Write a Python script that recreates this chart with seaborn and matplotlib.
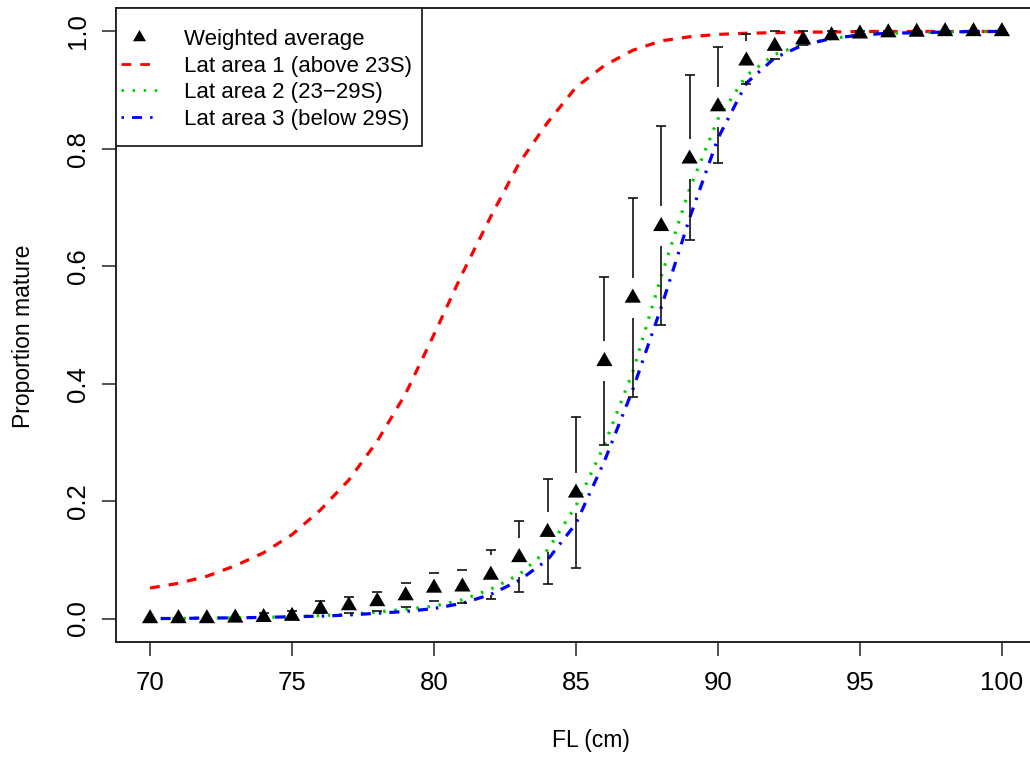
import matplotlib
matplotlib.use("Agg")
import numpy as np
import pandas as pd
import seaborn as sns
import matplotlib.pyplot as plt
from matplotlib.path import Path
from matplotlib.lines import Line2D
from matplotlib.transforms import ScaledTranslation

# ---------------- data ----------------
fl_cm = list(range(70, 101))

weighted_avg = [0.000, 0.000, 0.000, 0.001, 0.002, 0.004, 0.016, 0.022, 0.029, 0.039,
                0.052, 0.054, 0.074, 0.104, 0.147, 0.214, 0.438, 0.546, 0.668, 0.783,
                0.872, 0.950, 0.975, 0.986, 0.993, 0.996, 0.998, 0.999, 1.000, 1.000, 1.000]

ci_upper = [0.000, 0.000, 0.000, 0.001, 0.009, 0.013, 0.029, 0.036, 0.046, 0.060,
            0.077, 0.083, 0.116, 0.166, 0.238, 0.344, 0.582, 0.716, 0.839, 0.926,
            0.973, 0.995, 1.000, 1.000, 1.000, 1.000, 1.000, 1.000, 1.000, 1.000, 1.000]

ci_lower = [0.000, 0.000, 0.000, 0.001, 0.000, 0.000, 0.010, 0.009, 0.013, 0.020,
            0.029, 0.026, 0.034, 0.045, 0.059, 0.086, 0.296, 0.378, 0.500, 0.644,
            0.776, 0.910, 0.953, 0.977, 0.990, 0.995, 0.998, 0.999, 1.000, 1.000, 1.000]

lat_area1 = [0.052, 0.060, 0.072, 0.090, 0.112, 0.143, 0.185, 0.236, 0.302, 0.383,
             0.484, 0.588, 0.685, 0.776, 0.845, 0.905, 0.942, 0.968, 0.984, 0.991,
             0.995, 0.997, 0.998, 0.999, 0.999, 1.000, 1.000, 1.000, 1.000, 1.000, 1.000]

lat_area2 = [0.000, 0.000, 0.001, 0.001, 0.002, 0.003, 0.005, 0.007, 0.011, 0.016,
             0.021, 0.032, 0.050, 0.075, 0.117, 0.192, 0.296, 0.420, 0.583, 0.732,
             0.851, 0.925, 0.961, 0.978, 0.988, 0.994, 0.997, 0.998, 0.999, 1.000, 1.000]

lat_area3 = [0.000, 0.000, 0.001, 0.001, 0.002, 0.003, 0.004, 0.006, 0.009, 0.012,
             0.017, 0.026, 0.041, 0.065, 0.100, 0.162, 0.268, 0.390, 0.530, 0.682,
             0.818, 0.912, 0.955, 0.977, 0.988, 0.994, 0.997, 0.998, 0.999, 1.000, 1.000]

series_labels = ["Lat area 1 (above 23S)", "Lat area 2 (23\u221229S)", "Lat area 3 (below 29S)"]
point_label = "Weighted average"
x_label = "FL (cm)"
y_label = "Proportion mature"
x_ticks = [70, 75, 80, 85, 90, 95, 100]
y_ticks = [0.0, 0.2, 0.4, 0.6, 0.8, 1.0]

# ---------------- style ----------------
sns.set_theme(style="white")
plt.rcParams["font.family"] = ["Liberation Sans", "DejaVu Sans"]
plt.rcParams["lines.scale_dashes"] = False
plt.rcParams["text.color"] = "black"

DPI = 100
W, H = 1030, 757
fig = plt.figure(figsize=(W / DPI, H / DPI), dpi=DPI)
ax_l, ax_r, ax_t, ax_b = 116, 1036, 8, 642
ax = fig.add_axes([ax_l / W, (H - ax_b) / H, (ax_r - ax_l) / W, (ax_b - ax_t) / H])

line_colors = ["#FF0000", "#00CD00", "#0000FF"]
line_dashes = [(7.0, 6.5), (1.8, 6.2), (1.8, 5.8, 7.2, 5.8)]
LW = 2.3

long_df = pd.DataFrame({
    "fl": fl_cm * 3,
    "p": lat_area1 + lat_area2 + lat_area3,
    "area": [series_labels[0]] * len(fl_cm) + [series_labels[1]] * len(fl_cm) + [series_labels[2]] * len(fl_cm),
})
sns.lineplot(data=long_df, x="fl", y="p", hue="area", style="area",
             palette=dict(zip(series_labels, line_colors)),
             dashes=dict(zip(series_labels, line_dashes)),
             linewidth=LW, ax=ax, legend=False, sort=False, estimator=None)
for ln in ax.get_lines():
    ln.set_dash_capstyle("butt")

# error bars (plotCI style with a gap round each point)
gap = 0.034
cap_half = 0.175
fl_arr = np.array(fl_cm, float)
y_arr = np.array(weighted_avg)
up_arr = np.array(ci_upper)
lo_arr = np.array(ci_lower)
bar_kw = dict(color="#111111", linewidth=1.2, zorder=3)
m_up = up_arr > y_arr + gap
ax.vlines(fl_arr[m_up], y_arr[m_up] + gap, up_arr[m_up], **bar_kw)
m_lo = lo_arr < y_arr - gap
ax.vlines(fl_arr[m_lo], lo_arr[m_lo], y_arr[m_lo] - gap, **bar_kw)
m_cap = up_arr > y_arr
ax.hlines(up_arr[m_cap], fl_arr[m_cap] - cap_half, fl_arr[m_cap] + cap_half, **bar_kw)
m_cap2 = lo_arr < y_arr
ax.hlines(lo_arr[m_cap2], fl_arr[m_cap2] - cap_half, fl_arr[m_cap2] + cap_half, **bar_kw)

# R pch 17 triangle (centroid at the data point)
tri = [(0.0, 1.5551), (1.3468, -0.7776), (-1.3468, -0.7776), (0.0, 1.5551)]
pts_df = pd.DataFrame({"fl": fl_cm, "p": weighted_avg})
sns.scatterplot(data=pts_df, x="fl", y="p", marker=tri, s=13.5 ** 2, color="black",
                edgecolor="none", linewidth=0, ax=ax, zorder=4, legend=False)

# axes
ax.set_xlim(68.8, 101.2)
ax.set_ylim(-0.04, 1.04)
ax.set_xticks(x_ticks)
ax.set_yticks(y_ticks)
ax.set_xticklabels([str(t) for t in x_ticks])
ax.set_yticklabels([f"{t:.1f}" for t in y_ticks])
TICK_FS = 18.5
ax.tick_params(axis="both", which="major", direction="out", length=10, width=1.1,
               color="#222222", labelsize=TICK_FS, labelcolor="black",
               bottom=True, left=True, top=False, right=False)
ax.tick_params(axis="x", pad=11)
ax.tick_params(axis="y", pad=9)
for lab in ax.get_yticklabels():
    lab.set_rotation(90)
    lab.set_va("center")
for sp in ax.spines.values():
    sp.set_visible(True)
    sp.set_color("#222222")
    sp.set_linewidth(1.4)
ax.grid(False)

LAB_FS = 16.5
ax.set_xlabel(x_label, fontsize=LAB_FS, color="black")
ax.set_ylabel(y_label, fontsize=LAB_FS, color="black")
ax.xaxis.set_label_coords((591 - ax_l) / (ax_r - ax_l), (ax_b - 740) / (ax_b - ax_t))
ax.xaxis.label.set_va("center")
ax.yaxis.set_label_coords((24 - ax_l) / (ax_r - ax_l), (ax_b - 336) / (ax_b - ax_t))
ax.yaxis.label.set_va("center")
ax.yaxis.label.set_ha("center")

# legend
handles = [Line2D([], [], linestyle="none", marker=tri, markersize=10.8, color="black",
                  markeredgewidth=0)]
for c, d in zip(line_colors, line_dashes):
    h = Line2D([], [], color=c, linewidth=2.0, dashes=d, dash_capstyle="butt")
    handles.append(h)

PAD_L, PAD_R, PAD_T, PAD_B = 5.0, 10.0, 21.0, 16.0


def r_box(x0, y0, width, height, mutation_size):
    x0 -= PAD_L
    y0 -= PAD_B
    x1 = x0 + width + PAD_L + PAD_R
    y1 = y0 + height + PAD_B + PAD_T
    return Path([(x0, y0), (x1, y0), (x1, y1), (x0, y1), (x0, y0)], closed=True)


offset = ScaledTranslation(PAD_L / DPI, -PAD_T / DPI, fig.dpi_scale_trans)
leg = ax.legend(handles, [point_label] + series_labels, loc="upper left",
                bbox_to_anchor=(0, 1), bbox_transform=ax.transAxes + offset,
                borderaxespad=0, borderpad=0, fontsize=16, handlelength=1.6,
                handletextpad=1.25, labelspacing=0.25, frameon=True, fancybox=False)
leg.get_frame().set_boxstyle(r_box)
leg.get_frame().set_edgecolor("#222222")
leg.get_frame().set_linewidth(1.3)
leg.get_frame().set_facecolor("white")
leg.get_frame().set_alpha(1)
for t in leg.get_texts():
    t.set_color("black")

fig.savefig("out.png", dpi=DPI)
